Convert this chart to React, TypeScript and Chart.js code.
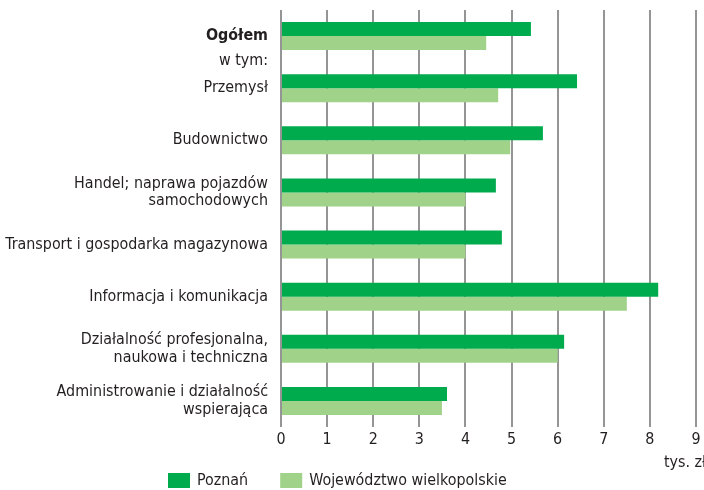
import React, { useEffect, useRef } from "react";
import { Chart, registerables } from "chart.js";

Chart.register(...registerables);

const categories: string[][] = [
  ["Ogółem"],
  ["Przemysł"],
  ["Budownictwo"],
  ["Handel; naprawa pojazdów", "samochodowych"],
  ["Transport i gospodarka magazynowa"],
  ["Informacja i komunikacja"],
  ["Działalność profesjonalna,", "naukowa i techniczna"],
  ["Administrowanie i działalność", "wspierająca"],
];
const subLabel = "w tym:";
const seriesNames = ["Poznań", "Województwo wielkopolskie"];
const poznan = [5.42, 6.42, 5.68, 4.66, 4.79, 8.18, 6.14, 3.6];
const wojewodztwo = [4.45, 4.71, 4.97, 4.0, 4.0, 7.5, 6.0, 3.49];
const xTicks = [0, 1, 2, 3, 4, 5, 6, 7, 8, 9];
const unitLabel = "tys. zł";

const FONT = "'DejaVu Sans Condensed', 'DejaVu Sans', sans-serif";
const FS = 15.9;
const TEXT = "#231F20";
const DARK = "#00AB4E";
const LIGHT = "#A0D28A";
const GRID = "#959595";

const extrasPlugin = {
  id: "extras",
  afterDraw(chart: any) {
    const ctx = chart.ctx;
    const y = chart.scales.y;
    const area = chart.chartArea;
    ctx.save();
    ctx.fillStyle = TEXT;
    ctx.font = `${FS}px ${FONT}`;
    ctx.textBaseline = "middle";
    // "w tym:" between first and second categories
    ctx.textAlign = "right";
    const yMid = (y.getPixelForValue(0) + y.getPixelForValue(1)) / 2;
    ctx.fillText(subLabel, area.left - 13, yMid - 1);
    // unit label
    ctx.textAlign = "left";
    ctx.fillText(unitLabel, 664, 463);
    // legend
    let x = 168;
    const ly = 473;
    chart.data.datasets.forEach((ds: any) => {
      ctx.fillStyle = ds.backgroundColor;
      ctx.fillRect(x, ly, 22, 15);
      ctx.fillStyle = TEXT;
      ctx.fillText(ds.label, x + 29, ly + 7.5);
      x += 29 + ctx.measureText(ds.label).width + 32;
    });
    ctx.restore();
  },
};

export default function App() {
  const ref = useRef<HTMLCanvasElement>(null);
  useEffect(() => {
    if (!ref.current) return;
    const chart = new Chart(ref.current, {
      type: "bar",
      data: {
        labels: categories,
        datasets: [
          {
            label: seriesNames[0],
            data: poznan,
            backgroundColor: DARK,
            categoryPercentage: 0.535,
            barPercentage: 1,
          },
          {
            label: seriesNames[1],
            data: wojewodztwo,
            backgroundColor: LIGHT,
            categoryPercentage: 0.535,
            barPercentage: 1,
          },
        ],
      },
      options: {
        indexAxis: "y",
        animation: false,
        responsive: true,
        maintainAspectRatio: false,
        layout: { padding: { top: 10, right: 8, left: 0, bottom: 0 } },
        plugins: {
          legend: { display: false },
          tooltip: { enabled: false },
        },
        scales: {
          x: {
            min: 0,
            max: 9,
            afterBuildTicks: (scale: any) => {
              scale.ticks = xTicks.map((v) => ({ value: v }));
            },
            afterFit: (scale: any) => {
              scale.height = 63;
              scale.paddingLeft = 0;
              scale.paddingRight = 0;
            },
            grid: {
              color: GRID,
              lineWidth: 2,
              drawTicks: false,
            },
            border: { display: false },
            ticks: {
              color: TEXT,
              padding: 3,
              font: { family: FONT, size: FS },
            },
          },
          y: {
            afterFit: (scale: any) => {
              scale.width = 281;
              scale.paddingTop = 0;
              scale.paddingBottom = 0;
            },
            grid: { display: false, drawTicks: false },
            border: { display: false },
            ticks: {
              color: TEXT,
              padding: 13,
              font: (c: any) => ({
                family: FONT,
                size: FS,
                weight: c.index === 0 ? "bold" : "normal",
                lineHeight: 1.09,
              }),
            },
          },
        },
      },
      plugins: [extrasPlugin],
    });
    return () => chart.destroy();
  }, []);
  return (
    <div style={{ position: "absolute", left: 0, top: 0, width: 704, height: 490 }}>
      <canvas ref={ref} />
    </div>
  );
}
